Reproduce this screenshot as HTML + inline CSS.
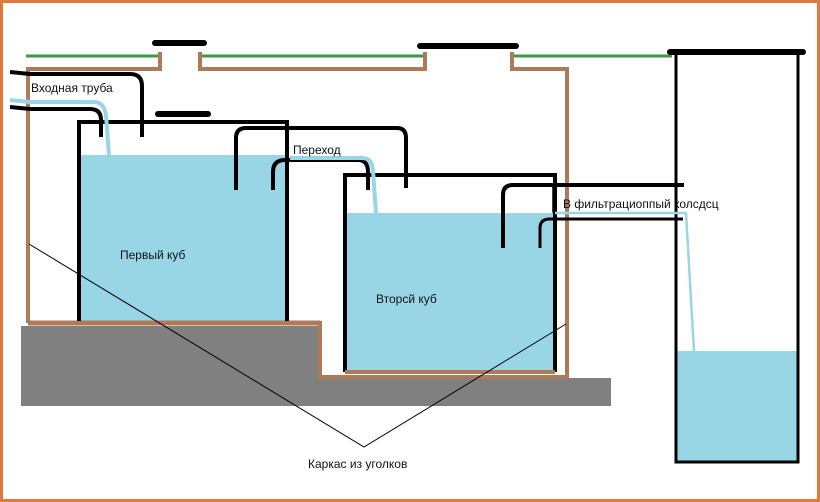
<!DOCTYPE html>
<html><head><meta charset="utf-8"><style>
html,body{margin:0;padding:0;background:#fff}
svg{display:block}
text{font-family:"Liberation Sans","DejaVu Sans",sans-serif;font-size:12px;fill:#111}
</style></head><body>
<svg width="820" height="502" viewBox="0 0 820 502" xmlns="http://www.w3.org/2000/svg">
<rect x="1.5" y="1.5" width="817" height="499" fill="#fff" stroke="#e07a3c" stroke-width="3"/>
<!-- gray ground -->
<rect x="21" y="326" width="299" height="80" fill="#808080"/>
<rect x="320" y="378" width="291" height="28" fill="#808080"/>
<!-- green line -->
<path d="M26 56H160 M200 56H425 M512 56H672" stroke="#3a9a4a" stroke-width="3" fill="none"/>
<!-- water -->
<rect x="79" y="155" width="207" height="166" fill="#98d6e6"/>
<rect x="345" y="213" width="209" height="159" fill="#98d6e6"/>
<rect x="677" y="351" width="120" height="110" fill="#98d6e6"/>
<!-- brown frame -->
<path d="M28 323V69H160V52 M200 52V69H425V52 M512 52V69H567V377H320V323H28" stroke="#b07a58" stroke-width="4" fill="none"/>
<path d="M28 323H320" stroke="#b07a58" stroke-width="5"/>
<!-- tanks -->
<path d="M79 321V122H287V321" stroke="#000" stroke-width="4" fill="none"/>
<path d="M345 372V175H555V372" stroke="#000" stroke-width="4" fill="none"/>
<path d="M345 372H555" stroke="#b07a58" stroke-width="4"/>
<!-- caps -->
<path d="M155 43H204 M158 114H208 M420 46H516 M670 52H803" stroke="#000" stroke-width="6" stroke-linecap="round"/>
<!-- well -->
<path d="M676 54V462H798V54" stroke="#000" stroke-width="3" fill="none"/>
<!-- inlet pipes -->
<path d="M10 72L30 74H130Q142 74 142 86V137" stroke="#000" stroke-width="4" fill="none"/>
<path d="M10 107L30 109H90Q101 109 101 120V137" stroke="#000" stroke-width="4" fill="none"/>
<path d="M10 100L30 102H94Q104 102 106 115L109 156" stroke="#98d6e6" stroke-width="4" fill="none"/>
<!-- transfer pipe -->
<path d="M236 190V138Q236 128 246 128H397Q406 128 406 138V188" stroke="#000" stroke-width="4" fill="none"/>
<path d="M273 190V172Q273 160 285 160H358Q368 160 368 172V190" stroke="#000" stroke-width="4" fill="none"/>
<path d="M290 158H362Q372 158 373 170L376 214" stroke="#98d6e6" stroke-width="4" fill="none"/>
<!-- outlet pipes -->
<path d="M503 248V195Q503 185 513 185H684" stroke="#000" stroke-width="4" fill="none"/>
<path d="M540 248V228Q540 219 550 219H683" stroke="#000" stroke-width="3" fill="none"/>
<path d="M553 187V212H556" stroke="#000" stroke-width="1.5" fill="none"/>
<path d="M555 213H686L694 351" stroke="#98d6e6" stroke-width="2.5" fill="none"/>
<!-- labels lines -->
<path d="M29 244L364 447L566 324" stroke="#000" stroke-width="1" fill="none"/>
<!-- text -->
<text x="31" y="92">Входная труба</text>
<text x="293" y="154">Переход</text>
<text x="120" y="259">Первый куб</text>
<text x="376" y="303">Вторсй куб</text>
<text x="563" y="208">В фильтрациоппый колсдсц</text>
<text x="308" y="468">Каркас из уголков</text>
</svg>
</body></html>
